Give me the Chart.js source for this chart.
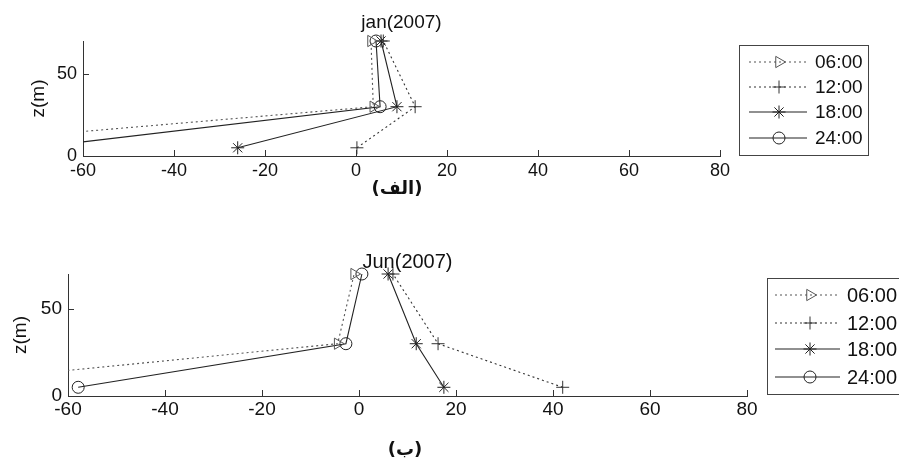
<!DOCTYPE html>
<html>
<head>
<meta charset="utf-8">
<script src="https://cdn.jsdelivr.net/npm/chart.js@4.4.1/dist/chart.umd.min.js"></script>
<style>
  html, body { margin: 0; padding: 0; background: #fff; }
  body { width: 899px; height: 463px; position: relative; overflow: hidden; }
  canvas { position: absolute; left: 0; }
  #chart-jan { top: 0; }
  #chart-jun { top: 230px; }
  .caption {
    position: absolute;
    font: bold 18px "DejaVu Sans", sans-serif;
    color: #111;
    transform: translate(-50%, -50%);
    white-space: nowrap;
  }
</style>
</head>
<body>
<canvas id="chart-jan" width="899" height="200"></canvas>
<canvas id="chart-jun" width="899" height="233"></canvas>
<div class="caption" dir="rtl" style="left:397px; top:187px;">(الف)</div>
<div class="caption" dir="rtl" style="left:405px; top:448px;">(ب)</div>

<script>
// ── Data ─────────────────────────────────────────────────────────
const zLevels   = [5, 30, 70];            // heights (m)
const hourNames = ["06:00", "12:00", "18:00", "24:00"];

// January 2007 – x value at each height
const jan06 = [-102, 3.8, 3.3];
const jan12 = [0.2, 13, 6];
const jan18 = [-26, 9, 5.5];
const jan24 = [-71, 5.3, 4.4];

// June 2007
const jun06 = [-95, -4.4, -1];
const jun12 = [42, 16.3, 7];
const jun18 = [17.5, 11.8, 6];
const jun24 = [-57.9, -2.7, 0.6];

const xTicksMin = -60, xTicksMax = 80, xStep = 20;
const yMin = 0, yMax = 70, yStep = 50;

// ── Styles ───────────────────────────────────────────────────────
const fontFamily = "'Liberation Sans', Arial, sans-serif";
const axisColor  = "#333";
const textColor  = "#111";

const seriesStyle = [
  { pointStyle: "triangle", rotation: 90, radius: 6.5, color: "#555", dash: [2, 3] },
  { pointStyle: "cross",    rotation: 0,  radius: 6.5, color: "#333", dash: [2, 3] },
  { pointStyle: "star",     rotation: 0,  radius: 6.5, color: "#222", dash: [] },
  { pointStyle: "circle",   rotation: 0,  radius: 6,   color: "#222", dash: [] },
];

function toPoints(xs) {
  return xs.map((x, i) => ({ x, y: zLevels[i] }));
}

function buildDatasets(seriesList) {
  return seriesList.map((xs, i) => {
    const s = seriesStyle[i];
    return {
      label: hourNames[i],
      data: toPoints(xs),
      showLine: true,
      clip: { left: 0, top: 10, right: 10, bottom: 10 },
      borderColor: s.color,
      borderWidth: 1.1,
      borderDash: s.dash,
      pointStyle: s.pointStyle,
      rotation: s.rotation,
      pointRadius: s.radius,
      pointBorderColor: s.color,
      pointBorderWidth: 1,
      pointBackgroundColor: "rgba(0,0,0,0)",
    };
  });
}

// ── Plugin: title, inward ticks, boxed legend ───────────────────
const decorPlugin = {
  id: "decor",
  afterDraw(chart, args, opts) {
    const ctx = chart.ctx;
    const area = chart.chartArea;
    const xs = chart.scales.x, ys = chart.scales.y;
    ctx.save();

    // inward tick marks
    ctx.strokeStyle = axisColor;
    ctx.lineWidth = 1;
    ctx.beginPath();
    xs.ticks.forEach(t => {
      const px = Math.round(xs.getPixelForValue(t.value)) + 0.5;
      ctx.moveTo(px, area.bottom);
      ctx.lineTo(px, area.bottom - 6);
    });
    ys.ticks.forEach(t => {
      const py = Math.round(ys.getPixelForValue(t.value)) + 0.5;
      ctx.moveTo(area.left, py);
      ctx.lineTo(area.left + 6, py);
    });
    ctx.stroke();

    // title
    ctx.fillStyle = textColor;
    ctx.font = opts.titleSize + "px " + fontFamily;
    ctx.textAlign = "center";
    ctx.textBaseline = "alphabetic";
    ctx.fillText(opts.title, (area.left + area.right) / 2, opts.titleY);

    // legend box
    const lg = opts.legend;
    ctx.strokeStyle = "#444";
    ctx.setLineDash([]);
    ctx.strokeRect(lg.x + 0.5, lg.y + 0.5, lg.w, lg.h);
    ctx.font = lg.fontSize + "px " + fontFamily;
    ctx.textAlign = "left";
    ctx.textBaseline = "middle";
    chart.data.datasets.forEach((ds, i) => {
      const ry = lg.y + lg.rows[i];
      ctx.strokeStyle = ds.borderColor;
      ctx.lineWidth = 1.1;
      ctx.setLineDash(ds.borderDash);
      ctx.beginPath();
      ctx.moveTo(lg.x + lg.lineFrom, ry);
      ctx.lineTo(lg.x + lg.lineTo, ry);
      ctx.stroke();
      ctx.setLineDash([]);
      ctx.strokeStyle = ds.pointBorderColor;
      ctx.fillStyle = "rgba(0,0,0,0)";
      ctx.lineWidth = 1;
      Chart.helpers.drawPoint(ctx, {
        pointStyle: ds.pointStyle,
        rotation: ds.rotation,
        radius: ds.pointRadius,
        borderWidth: 1,
      }, lg.x + lg.markerX, ry);
      ctx.fillStyle = textColor;
      ctx.fillText(ds.label, lg.x + lg.textX, ry + 1);
    });

    ctx.restore();
  },
};

// ── Chart factory ────────────────────────────────────────────────
function makeChart(id, seriesList, cfg) {
  const ctx = document.getElementById(id).getContext("2d");
  return new Chart(ctx, {
    type: "scatter",
    data: { datasets: buildDatasets(seriesList) },
    options: {
      responsive: false,
      devicePixelRatio: 1,
      animation: false,
      events: [],
      layout: { padding: { left: 0, right: cfg.padRight, top: cfg.padTop, bottom: 0 } },
      plugins: {
        legend: { display: false },
        tooltip: { enabled: false },
        title: { display: false },
        decor: { title: cfg.title, titleSize: cfg.titleSize, titleY: cfg.titleY, legend: cfg.legend },
      },
      scales: {
        x: {
          type: "linear",
          min: xTicksMin,
          max: xTicksMax,
          grid: { display: false, drawTicks: false },
          border: { display: true, color: axisColor, width: 1 },
          ticks: {
            stepSize: xStep,
            padding: cfg.xPad,
            color: textColor,
            font: { family: fontFamily, size: cfg.tickSize },
            maxRotation: 0,
          },
          afterFit(scale) { scale.height = cfg.xHeight; },
        },
        y: {
          type: "linear",
          min: yMin,
          max: yMax,
          grid: { display: false, drawTicks: false },
          border: { display: true, color: axisColor, width: 1 },
          ticks: {
            stepSize: yStep,
            includeBounds: false,
            padding: 6,
            color: textColor,
            font: { family: fontFamily, size: cfg.tickSize },
          },
          title: {
            display: true,
            text: "z(m)",
            color: textColor,
            font: { family: fontFamily, size: 19 },
            padding: { top: cfg.yTitlePad, bottom: 0 },
          },
          afterFit(scale) { scale.width = cfg.yWidth; },
        },
      },
    },
    plugins: [decorPlugin],
  });
}

makeChart("chart-jan", [jan06, jan12, jan18, jan24], {
  title: "jan(2007)", titleSize: 19, titleY: 28,
  padRight: 179, padTop: 41, yWidth: 83, xHeight: 44, xPad: 4, tickSize: 18, yTitlePad: 27,
  legend: { x: 739, y: 45, w: 129, h: 110, rows: [17, 42, 67, 93],
            lineFrom: 10, lineTo: 68, markerX: 40, textX: 76, fontSize: 19 },
});

makeChart("chart-jun", [jun06, jun12, jun18, jun24], {
  title: "Jun(2007)", titleSize: 20, titleY: 38,
  padRight: 152, padTop: 44, yWidth: 68, xHeight: 67, xPad: 2, tickSize: 19, yTitlePad: 9,
  legend: { x: 767, y: 48, w: 140, h: 116, rows: [17, 45, 71, 99],
            lineFrom: 8, lineTo: 73, markerX: 43, textX: 80, fontSize: 20 },
});
</script>
</body>
</html>
